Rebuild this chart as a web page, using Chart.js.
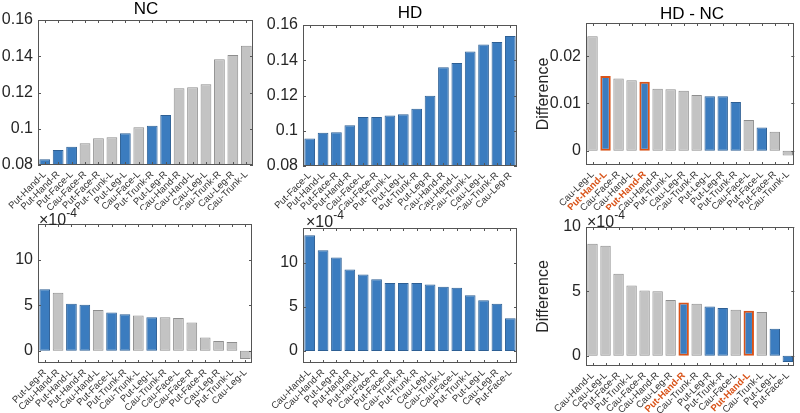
<!DOCTYPE html>
<html>
<head>
<meta charset="utf-8">
<script src="https://cdn.jsdelivr.net/npm/chart.js@4.4.0/dist/chart.umd.min.js"></script>
<style>
  html, body { margin: 0; padding: 0; background: #fff; }
  body { width: 800px; height: 413px; position: relative; overflow: hidden;
         font-family: "Liberation Sans", Arial, sans-serif; }
  .panel { position: absolute; }
  .title { position: absolute; font-size: 17px; line-height: 17px; color: #000;
           transform: translateX(-50%); white-space: nowrap; }
  .mult { position: absolute; font-size: 16px; line-height: 16px; color: #262626; white-space: nowrap; }
  .mult sup { font-size: 12px; position: relative; top: -2px; }
</style>
</head>
<body>

<div class="panel" style="left:0;top:0;width:265px;height:210px"><canvas id="c1"></canvas></div>
<div class="panel" style="left:265px;top:0;width:265px;height:210px"><canvas id="c2"></canvas></div>
<div class="panel" style="left:530px;top:0;width:270px;height:210px"><canvas id="c3"></canvas></div>
<div class="panel" style="left:0;top:206px;width:265px;height:207px"><canvas id="c4"></canvas></div>
<div class="panel" style="left:265px;top:206px;width:265px;height:207px"><canvas id="c5"></canvas></div>
<div class="panel" style="left:530px;top:206px;width:270px;height:207px"><canvas id="c6"></canvas></div>

<div class="title" style="left:146px;top:0">NC</div>
<div class="title" style="left:410px;top:4px">HD</div>
<div class="title" style="left:692px;top:5px">HD - NC</div>
<div class="mult" style="left:39px;top:207px">&times;10<sup>-4</sup></div>
<div class="mult" style="left:306px;top:209px">&times;10<sup>-4</sup></div>
<div class="mult" style="left:587px;top:209px">&times;10<sup>-4</sup></div>

<script>
// ---- data ----
// regions drawn in blue on the NC / difference panels
const sigRegions   = ['Put-Hand-L', 'Put-Hand-R', 'Put-Face-L', 'Put-Leg-L', 'Put-Leg-R', 'Put-Trunk-R'];
// regions outlined / labelled in orange on the difference panels
const markRegions  = ['Put-Hand-L', 'Put-Hand-R'];

// top row
const ncTopLabels  = ['Put-Hand-L', 'Put-Hand-R', 'Put-Face-L', 'Cau-Face-R', 'Put-Face-R', 'Put-Trunk-L', 'Put-Leg-L', 'Cau-Face-L',
                      'Put-Trunk-R', 'Put-Leg-R', 'Cau-Hand-R', 'Cau-Hand-L', 'Cau-Leg-L', 'Cau-Trunk-R', 'Cau-Leg-R', 'Cau-Trunk-L'];
const ncTopValues  = [0.0832, 0.0883, 0.0901, 0.0920, 0.0947, 0.0953, 0.0975, 0.1008,
                      0.1017, 0.1076, 0.1223, 0.1229, 0.1245, 0.1383, 0.1407, 0.1458];

const hdTopLabels  = ['Put-Face-L', 'Put-Hand-L', 'Put-Face-R', 'Put-Hand-R', 'Cau-Face-L', 'Cau-Face-R', 'Put-Trunk-L', 'Put-Leg-L',
                      'Put-Trunk-R', 'Put-Leg-R', 'Cau-Hand-R', 'Cau-Hand-L', 'Cau-Trunk-L', 'Cau-Leg-L', 'Cau-Trunk-R', 'Cau-Leg-R'];
const hdTopValues  = [0.0956, 0.0988, 0.0992, 0.1031, 0.1078, 0.1078, 0.1086, 0.1093,
                      0.1125, 0.1198, 0.1360, 0.1384, 0.1450, 0.1490, 0.1504, 0.1538];

const dfTopLabels  = ['Cau-Leg-L', 'Put-Hand-L', 'Cau-Face-R', 'Cau-Hand-L', 'Put-Hand-R', 'Cau-Hand-R', 'Put-Trunk-L', 'Cau-Leg-R',
                      'Cau-Trunk-R', 'Put-Leg-L', 'Put-Leg-R', 'Put-Trunk-R', 'Cau-Face-L', 'Put-Face-L', 'Put-Face-R', 'Cau-Trunk-L'];
const dfTopValues  = [0.0242, 0.0158, 0.0153, 0.0149, 0.0146, 0.0131, 0.0130, 0.0127,
                      0.0118, 0.0115, 0.0115, 0.0103, 0.0065, 0.0049, 0.0040, -0.0010];

// bottom row (values x 1e-4)
const ncBotLabels  = ['Put-Leg-R', 'Cau-Hand-R', 'Put-Hand-L', 'Put-Hand-R', 'Cau-Hand-L', 'Put-Face-L', 'Put-Trunk-R', 'Cau-Trunk-L',
                      'Put-Leg-L', 'Cau-Trunk-R', 'Cau-Face-L', 'Cau-Face-R', 'Put-Face-R', 'Cau-Leg-R', 'Put-Trunk-L', 'Cau-Leg-L'];
const ncBotValues  = [6.73, 6.36, 5.16, 5.05, 4.47, 4.18, 4.00, 3.85,
                      3.67, 3.67, 3.60, 3.09, 1.45, 1.06, 0.95, -0.90];

const hdBotLabels  = ['Cau-Hand-L', 'Cau-Hand-R', 'Put-Leg-R', 'Put-Hand-R', 'Put-Hand-L', 'Cau-Face-R', 'Put-Face-R', 'Cau-Trunk-R',
                      'Put-Trunk-R', 'Cau-Leg-L', 'Cau-Trunk-L', 'Cau-Face-L', 'Put-Trunk-L', 'Put-Leg-L', 'Cau-Leg-R', 'Put-Face-L'];
const hdBotValues  = [13.08, 11.40, 10.56, 9.20, 8.65, 8.10, 7.70, 7.70,
                      7.70, 7.52, 7.25, 7.14, 6.30, 5.75, 5.33, 3.70];

const dfBotLabels  = ['Cau-Hand-L', 'Cau-Leg-L', 'Put-Face-R', 'Put-Trunk-L', 'Cau-Face-R', 'Cau-Hand-R', 'Cau-Leg-R', 'Put-Hand-R',
                      'Cau-Trunk-R', 'Put-Leg-R', 'Put-Trunk-R', 'Cau-Face-L', 'Put-Hand-L', 'Cau-Trunk-L', 'Put-Leg-L', 'Put-Face-L'];
const dfBotValues  = [8.70, 8.55, 6.37, 5.46, 5.07, 5.00, 4.33, 4.14,
                      4.04, 3.83, 3.70, 3.57, 3.50, 3.40, 2.10, -0.49];

const ticksTop     = [0.08, 0.10, 0.12, 0.14, 0.16];
const ticksDiffTop = [0, 0.01, 0.02];
const ticksBottom  = [0, 5, 10];

// ---- styles ----
const FONT   = '"Liberation Sans", Arial, sans-serif';
const BLUE   = '#3b7cbf', BLUE_EDGE = '#2d5f94';
const GREY   = '#c3c3c3', GREY_EDGE = '#8e8e8e';
const ORANGE = '#d95319';

// frame + inward tick marks like a boxed axes
const framePlugin = {
  id: 'frame',
  afterDraw(chart) {
    const { ctx, chartArea: a, scales: { x, y } } = chart;
    ctx.save();
    ctx.strokeStyle = '#555';
    ctx.lineWidth = 1;
    ctx.strokeRect(Math.round(a.left) + 0.5, Math.round(a.top) + 0.5,
                   Math.round(a.right - a.left) - 1, Math.round(a.bottom - a.top) - 1);
    ctx.beginPath();
    x.ticks.forEach((t, i) => {
      const px = Math.round(x.getPixelForTick(i)) + 0.5;
      ctx.moveTo(px, a.bottom); ctx.lineTo(px, a.bottom - 3);
      ctx.moveTo(px, a.top);    ctx.lineTo(px, a.top + 3);
    });
    y.ticks.forEach(t => {
      const py = Math.round(y.getPixelForValue(t.value)) + 0.5;
      ctx.moveTo(a.left, py);  ctx.lineTo(a.left + 3, py);
      ctx.moveTo(a.right, py); ctx.lineTo(a.right - 3, py);
    });
    ctx.stroke();
    ctx.restore();
  }
};

function makeChart(id, labels, values, o) {
  const isBlue = l => o.allBlue || sigRegions.includes(l);
  const isMark = l => o.marked && markRegions.includes(l);

  return new Chart(document.getElementById(id), {
    type: 'bar',
    data: {
      labels,
      datasets: [{
        data: values,
        backgroundColor: labels.map(l => isBlue(l) ? BLUE : GREY),
        borderColor: labels.map(l => isMark(l) ? ORANGE : (isBlue(l) ? BLUE_EDGE : GREY_EDGE)),
        borderWidth: labels.map(l => isMark(l) ? 2 : 1),
        borderSkipped: false,
        barPercentage: 0.8,
        categoryPercentage: 1.0
      }]
    },
    options: {
      responsive: true, maintainAspectRatio: false, animation: false,
      layout: { autoPadding: false, padding: { top: o.top, right: o.right, left: 0, bottom: 0 } },
      plugins: { legend: { display: false }, tooltip: { enabled: false } },
      scales: {
        x: {
          offset: true,
          grid: { display: false, drawTicks: false },
          border: { display: false },
          afterFit: s => { s.height = o.xh; },
          ticks: {
            autoSkip: false, maxRotation: 45, minRotation: 45, padding: 4,
            color: c => isMark(labels[c.index]) ? ORANGE : '#333',
            font: c => ({ family: FONT, size: 9.5, weight: isMark(labels[c.index]) ? 'bold' : 'normal' })
          }
        },
        y: {
          min: o.min, max: o.max,
          grid: { display: false, drawTicks: false },
          border: { display: false },
          afterFit: s => { s.width = o.yw; },
          afterBuildTicks: s => { s.ticks = o.ticks.map(v => ({ value: v })); },
          ticks: {
            padding: 5, color: '#262626',
            font: { family: FONT, size: 16 },
            callback: v => String(+v.toFixed(3))
          },
          title: {
            display: !!o.ytitle, text: o.ytitle || '', color: '#262626',
            font: { family: FONT, size: 16 }, padding: { top: 4, bottom: 0 }
          }
        }
      }
    },
    plugins: [framePlugin]
  });
}

makeChart('c1', ncTopLabels, ncTopValues, { min: 0.08, max: 0.16, ticks: ticksTop, top: 20, right: 12, yw: 38, xh: 45 });
makeChart('c2', hdTopLabels, hdTopValues, { min: 0.08, max: 0.16, ticks: ticksTop, top: 25, right: 13, yw: 38, xh: 44, allBlue: true });
makeChart('c3', dfTopLabels, dfTopValues, { min: -0.003, max: 0.027, ticks: ticksDiffTop, top: 23, right: 4, yw: 56, xh: 45, marked: true, ytitle: 'Difference' });
makeChart('c4', ncBotLabels, ncBotValues, { min: -1.35, max: 13.9, ticks: ticksBottom, top: 18, right: 13, yw: 38, xh: 50 });
makeChart('c5', hdBotLabels, hdBotValues, { min: -1.35, max: 13.9, ticks: ticksBottom, top: 22, right: 13, yw: 38, xh: 50, allBlue: true });
makeChart('c6', dfBotLabels, dfBotValues, { min: -0.8, max: 10, ticks: ticksBottom, top: 21, right: 4, yw: 56, xh: 47, marked: true, ytitle: 'Difference' });
</script>
</body>
</html>
